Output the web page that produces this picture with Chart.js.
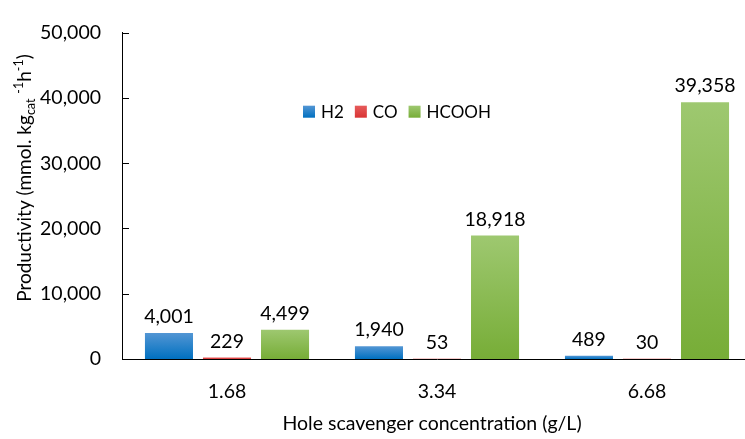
<!DOCTYPE html>
<html>
<head>
<meta charset="utf-8">
<script src="https://cdn.jsdelivr.net/npm/chart.js@4"></script>
<style>
  html, body { margin: 0; padding: 0; overflow: hidden; background: #fff; }
  #wrap { width: 752px; height: 439px; position: relative; }
</style>
</head>
<body>
<div id="wrap"><canvas id="c"></canvas></div>
<script>
const categories = ['1.68', '3.34', '6.68'];
const seriesNames = ['H2', 'CO', 'HCOOH'];
const h2Values = [4001, 1940, 489];
const coValues = [229, 53, 30];
const hcoohValues = [4499, 18918, 39358];
const yTicks = [0, 10000, 20000, 30000, 40000, 50000];

const FONT = 'Lato, "Open Sans", sans-serif';
const FS = 19.5;
const colorStops = {
  H2: ['#5396D4', '#0070C0'],
  CO: ['#E65B5B', '#D93434'],
  HCOOH: ['#9EC870', '#77AD37']
};

function gradFill(name) {
  return function (ctx) {
    const chart = ctx.chart;
    const stops = colorStops[name];
    if (!chart.chartArea || ctx.raw === undefined) return stops[1];
    const y = chart.scales.y;
    const top = y.getPixelForValue(ctx.raw);
    const bot = y.getPixelForValue(0);
    if (bot - top < 1) return stops[1];
    const g = chart.ctx.createLinearGradient(0, top, 0, bot);
    g.addColorStop(0, stops[0]);
    g.addColorStop(1, stops[1]);
    return g;
  };
}

const fmt = v => Number(v).toLocaleString('en-US');

const extrasPlugin = {
  id: 'extras',
  afterDatasetsDraw(chart) {
    const ctx = chart.ctx;
    const area = chart.chartArea;
    const y = chart.scales.y;
    ctx.save();
    // inward y ticks
    ctx.strokeStyle = '#000';
    ctx.lineWidth = 1;
    yTicks.forEach(v => {
      const py = Math.round(y.getPixelForValue(v)) + 0.5;
      ctx.beginPath();
      ctx.moveTo(area.left, py);
      ctx.lineTo(area.left + 7, py);
      ctx.stroke();
    });
    // data labels
    ctx.fillStyle = '#000';
    ctx.font = FS + 'px ' + FONT;
    ctx.textAlign = 'center';
    ctx.textBaseline = 'alphabetic';
    chart.data.datasets.forEach((ds, di) => {
      const meta = chart.getDatasetMeta(di);
      meta.data.forEach((bar, i) => {
        ctx.fillText(fmt(ds.data[i]), bar.x, bar.y - 10);
      });
    });
    // legend
    let lx = area.left + 181;
    const ly = area.top + 79;
    ctx.font = '17px ' + FONT;
    ctx.textAlign = 'left';
    ctx.textBaseline = 'middle';
    chart.data.datasets.forEach((ds, di) => {
      const stops = colorStops[ds.label];
      const g = ctx.createLinearGradient(0, ly - 6, 0, ly + 6);
      g.addColorStop(0, stops[0]);
      g.addColorStop(1, stops[1]);
      ctx.fillStyle = g;
      ctx.fillRect(lx, ly - 6, 12, 12);
      lx += 18;
      ctx.fillStyle = '#000';
      ctx.fillText(ds.label, lx, ly + 1);
      lx += ctx.measureText(ds.label).width + 11;
    });
    // x title
    ctx.textAlign = 'center';
    ctx.textBaseline = 'middle';
    ctx.font = FS + 'px ' + FONT;
    ctx.fillText('Hole scavenger concentration (g/L)', 432, 424);
    // y title with sub/superscripts
    const parts = [
      { t: 'Productivity (mmol. kg', s: 19, dy: 0 },
      { t: 'cat', s: 12.5, dy: 4 },
      { t: ' ', s: 19, dy: 0 },
      { t: '-1', s: 12.5, dy: -8 },
      { t: 'h', s: 19, dy: 0 },
      { t: '-1', s: 12.5, dy: -8 },
      { t: ')', s: 19, dy: 0 }
    ];
    let total = 0;
    parts.forEach(p => { ctx.font = p.s + 'px ' + FONT; p.w = ctx.measureText(p.t).width; total += p.w; });
    ctx.translate(24, 178);
    ctx.rotate(-Math.PI / 2);
    ctx.textAlign = 'left';
    ctx.textBaseline = 'alphabetic';
    let px = -total / 2;
    parts.forEach(p => {
      ctx.font = p.s + 'px ' + FONT;
      ctx.fillText(p.t, px, 7 + p.dy);
      px += p.w;
    });
    ctx.restore();
  }
};

new Chart(document.getElementById('c'), {
  type: 'bar',
  data: {
    labels: categories,
    datasets: [
      { label: seriesNames[0], data: h2Values, backgroundColor: gradFill('H2') },
      { label: seriesNames[1], data: coValues, backgroundColor: gradFill('CO') },
      { label: seriesNames[2], data: hcoohValues, backgroundColor: gradFill('HCOOH') }
    ]
  },
  options: {
    responsive: true,
    maintainAspectRatio: false,
    devicePixelRatio: 1,
    animation: false,
    layout: { padding: { top: 25, left: 0, right: 0, bottom: 0 } },
    datasets: { bar: { categoryPercentage: 0.829, barPercentage: 0.828 } },
    plugins: { legend: { display: false }, tooltip: { enabled: false } },
    scales: {
      x: {
        grid: { display: false },
        border: { display: true, color: '#000', width: 1 },
        ticks: { color: '#000', font: { family: FONT, size: FS }, padding: 13 },
        afterFit: s => { s.height = 80; }
      },
      y: {
        min: 0, max: 50000,
        grid: { display: false, drawTicks: false },
        border: { display: true, color: '#000', width: 1 },
        ticks: {
          stepSize: 10000,
          color: '#000',
          font: { family: FONT, size: FS },
          padding: 21,
          callback: v => fmt(v)
        },
        afterFit: s => { s.width = 122; }
      }
    }
  },
  plugins: [extrasPlugin]
});
</script>
</body>
</html>
